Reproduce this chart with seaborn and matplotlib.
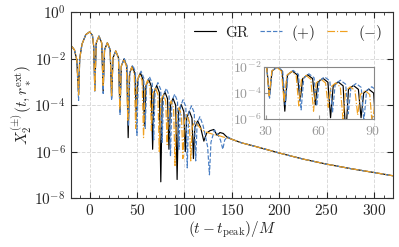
import numpy as np
import pandas as pd
import seaborn as sns
import matplotlib.pyplot as plt
from matplotlib.ticker import LogLocator, MultipleLocator, NullLocator

sns.set_style('ticks')
plt.rcParams['font.family'] = ['serif']
plt.rcParams['font.serif'] = ['cmr10', 'DejaVu Serif']
plt.rcParams['mathtext.fontset'] = 'cm'
plt.rcParams['axes.formatter.use_mathtext'] = True
plt.rcParams['axes.unicode_minus'] = False

# waveform samples: time (t - t_peak)/M and log10 |X|
t_gr = [-20, -16, -13.5, -11.6, -10.4, -8, -4, 0, 3, 4.3, 5.5, 7.0, 9.9, 12.8, 14.3,
        15.8, 18.75, 21.7, 23.2, 24.7, 27.6, 30.5, 32.0, 33.5, 36.35, 39.2, 40.7,
        42.2, 45.0, 47.8, 49.3, 50.8, 53.6, 56.4, 57.9, 59.4, 62.2, 65.0, 66.5,
        68.0, 70.8, 73.6, 75.1, 76.6, 79.4, 82.2, 83.7, 85.2, 88.0, 90.8, 92.3,
        93.8, 96.6, 99.4, 100.9, 102.4, 105.2, 108.0, 109.5, 111.0, 114.0, 117.0,
        120.5, 123.5, 127.0, 131.0, 134.5, 137.5, 141.0, 145.0, 150, 160, 175,
        200, 225, 250, 275, 300, 320]
lx_gr = [-1.42, -1.62, -2.05, -3.5, -2.0, -1.38, -0.97, -0.85, -1.0, -1.45, -3.3, -1.33,
         -1.03, -1.33, -3.4, -1.62, -1.32, -1.62, -3.7, -1.97, -1.67, -1.97, -4.3,
         -2.32, -2.02, -2.32, -5.4, -2.63, -2.33, -2.63, -4.6, -2.91, -2.61, -2.91,
         -4.9, -3.18, -2.88, -3.18, -5.9, -3.46, -3.16, -3.46, -7.3, -3.73, -3.43,
         -3.73, -5.9, -4.01, -3.71, -4.01, -7.2, -4.28, -3.98, -4.28, -6.0, -4.56,
         -4.26, -4.56, -6.3, -4.95, -4.68, -4.95, -5.55, -5.2, -5.1, -5.05, -5.3,
         -5.18, -5.22, -5.38, -5.47, -5.62, -5.78, -6.06, -6.32, -6.54, -6.73,
         -6.9, -7.04]

t_plus = [-20, -16, -13.5, -11.6, -10.4, -8, -4, 0, 3, 4.3, 5.5, 7.0, 9.9, 12.8, 14.3,
          15.8, 18.75, 21.7, 23.2, 24.7, 27.6, 30.5, 32.1, 33.6, 36.55, 39.5, 41.0,
          42.5, 45.45, 48.4, 49.9, 51.4, 54.3, 57.2, 58.7, 60.2, 63.15, 66.1, 67.6,
          69.1, 72.05, 75.0, 76.5, 78.0, 80.9, 83.8, 85.3, 86.8, 89.75, 92.7, 94.2,
          95.7, 98.6, 101.5, 103.0, 104.5, 107.45, 110.4, 111.9, 113.4, 116.3,
          119.5, 122.0, 124.5, 126.4, 128.0, 131.7, 135.0, 138.0, 140.5, 142.5,
          145.5, 150, 160, 175, 200, 225, 250, 275, 300, 320]
lx_plus = [-1.42, -1.62, -2.05, -3.8, -2.0, -1.38, -0.97, -0.85, -1.0, -1.45, -3.4,
           -1.33, -1.03, -1.33, -3.5, -1.62, -1.32, -1.62, -3.8, -1.97, -1.67, -1.97,
           -4.4, -2.3, -2.0, -2.3, -4.9, -2.58, -2.28, -2.58, -5.3, -2.84, -2.54,
           -2.84, -5.0, -3.08, -2.78, -3.08, -5.5, -3.33, -3.03, -3.33, -5.6, -3.58,
           -3.28, -3.58, -6.2, -3.83, -3.53, -3.83, -5.9, -4.07, -3.77, -4.07, -6.7,
           -4.33, -4.03, -4.33, -6.4, -4.8, -4.5, -4.85, -5.3, -5.8, -7.0, -5.6,
           -5.07, -5.25, -5.5, -5.9, -5.5, -5.36, -5.47, -5.62, -5.78, -6.06, -6.32,
           -6.54, -6.73, -6.9, -7.04]

t_minus = [-20, -16, -13.5, -11.6, -10.4, -8, -4, 0, 3, 4.3, 5.5, 7.0, 9.9, 12.8, 14.3,
           15.8, 18.75, 21.7, 23.2, 24.7, 27.6, 30.4, 31.9, 33.4, 36.1, 38.8, 40.3,
           41.8, 44.45, 47.1, 48.6, 50.1, 52.75, 55.4, 56.9, 58.4, 61.05, 63.7, 65.2,
           66.7, 69.35, 72.0, 73.5, 75.0, 77.65, 80.3, 81.8, 83.3, 85.95, 88.6, 90.1,
           91.6, 94.25, 96.9, 98.4, 99.9, 102.55, 105.2, 106.7, 108.2, 111, 114, 118,
           122, 126, 131, 135.5, 140, 145, 150, 160, 175, 200, 225, 250, 275, 300, 320]
lx_minus = [-1.42, -1.62, -2.05, -3.57, -2.0, -1.38, -0.97, -0.85, -1.0, -1.45, -3.38,
            -1.33, -1.03, -1.33, -3.2, -1.62, -1.32, -1.62, -3.6, -1.97, -1.67, -1.97,
            -4.2, -2.33, -2.03, -2.33, -4.7, -2.66, -2.36, -2.66, -5.0, -2.96, -2.66,
            -2.96, -5.4, -3.24, -2.94, -3.24, -5.1, -3.54, -3.24, -3.54, -6.0, -3.83,
            -3.53, -3.83, -5.7, -4.12, -3.82, -4.12, -6.6, -4.41, -4.11, -4.41, -6.3,
            -4.71, -4.41, -4.71, -6.4, -4.95, -4.7, -4.85, -5.05, -5.15, -5.2, -5.27,
            -5.3, -5.36, -5.42, -5.47, -5.62, -5.78, -6.06, -6.32, -6.54, -6.73, -6.9,
            -7.04]

labels = ['GR', r'$(+)$', r'$(-)$']
colors = ['black', '#4a7fc4', '#f0a020']
styles = ['-', '--', '-.']
series = [(t_gr, lx_gr), (t_plus, lx_plus), (t_minus, lx_minus)]


def draw(ax, legend):
    for (t, lx), lab, c, ls in zip(series, labels, colors, styles):
        sns.lineplot(x=np.array(t), y=10.0 ** np.array(lx), ax=ax, color=c,
                     linestyle=ls, lw=0.85, label=lab if legend else None,
                     estimator=None, sort=False)


fig = plt.figure(figsize=(3.99, 2.47), dpi=100)
ax = fig.add_axes([0.177, 0.198, 0.808, 0.753])
draw(ax, True)
ax.set_yscale('log')
ax.set_xlim(-20, 320)
ax.set_ylim(1e-8, 1)
ax.yaxis.set_major_locator(LogLocator(base=100))
ax.yaxis.set_minor_locator(NullLocator())
ax.xaxis.set_major_locator(MultipleLocator(50))
ax.xaxis.set_minor_locator(MultipleLocator(10))
ax.grid(True, which='major', ls='--', color='#dadada', lw=0.7)
ax.tick_params(which='both', direction='in', top=True, right=True, labelsize=11)
ax.tick_params(which='major', length=4)
ax.tick_params(which='minor', length=2)
for s in ax.spines.values():
    s.set_color('#333333')
ax.set_xlabel(r'$(t - t_{\rm peak})/M$', fontsize=11, labelpad=1)
ax.set_ylabel(r'$X_2^{(\pm)}(t, r_*^{\rm ext})$', fontsize=11, labelpad=0)
ax.legend(loc='upper right', ncol=3, frameon=False, fontsize=11,
          handlelength=1.4, columnspacing=0.8, handletextpad=0.6,
          borderaxespad=0.3)

ins = ax.inset_axes([0.600, 0.425, 0.341, 0.281])
ins.set_facecolor('none')
draw(ins, False)
ins.set_yscale('log')
ins.set_xlim(29, 91)
ins.set_ylim(1e-6, 1e-2)
ins.yaxis.set_major_locator(LogLocator(base=100))
ins.yaxis.set_minor_locator(NullLocator())
ins.xaxis.set_major_locator(MultipleLocator(30))
ins.tick_params(direction='in', length=3, labelsize=10, colors='#999999',
                labelcolor='#999999', pad=2)
ins.tick_params(axis='x', pad=4)
for s in ins.spines.values():
    s.set_color('#888888')
ins.set_xlabel('')
ins.set_ylabel('')

fig.savefig('out.png', dpi=100)
